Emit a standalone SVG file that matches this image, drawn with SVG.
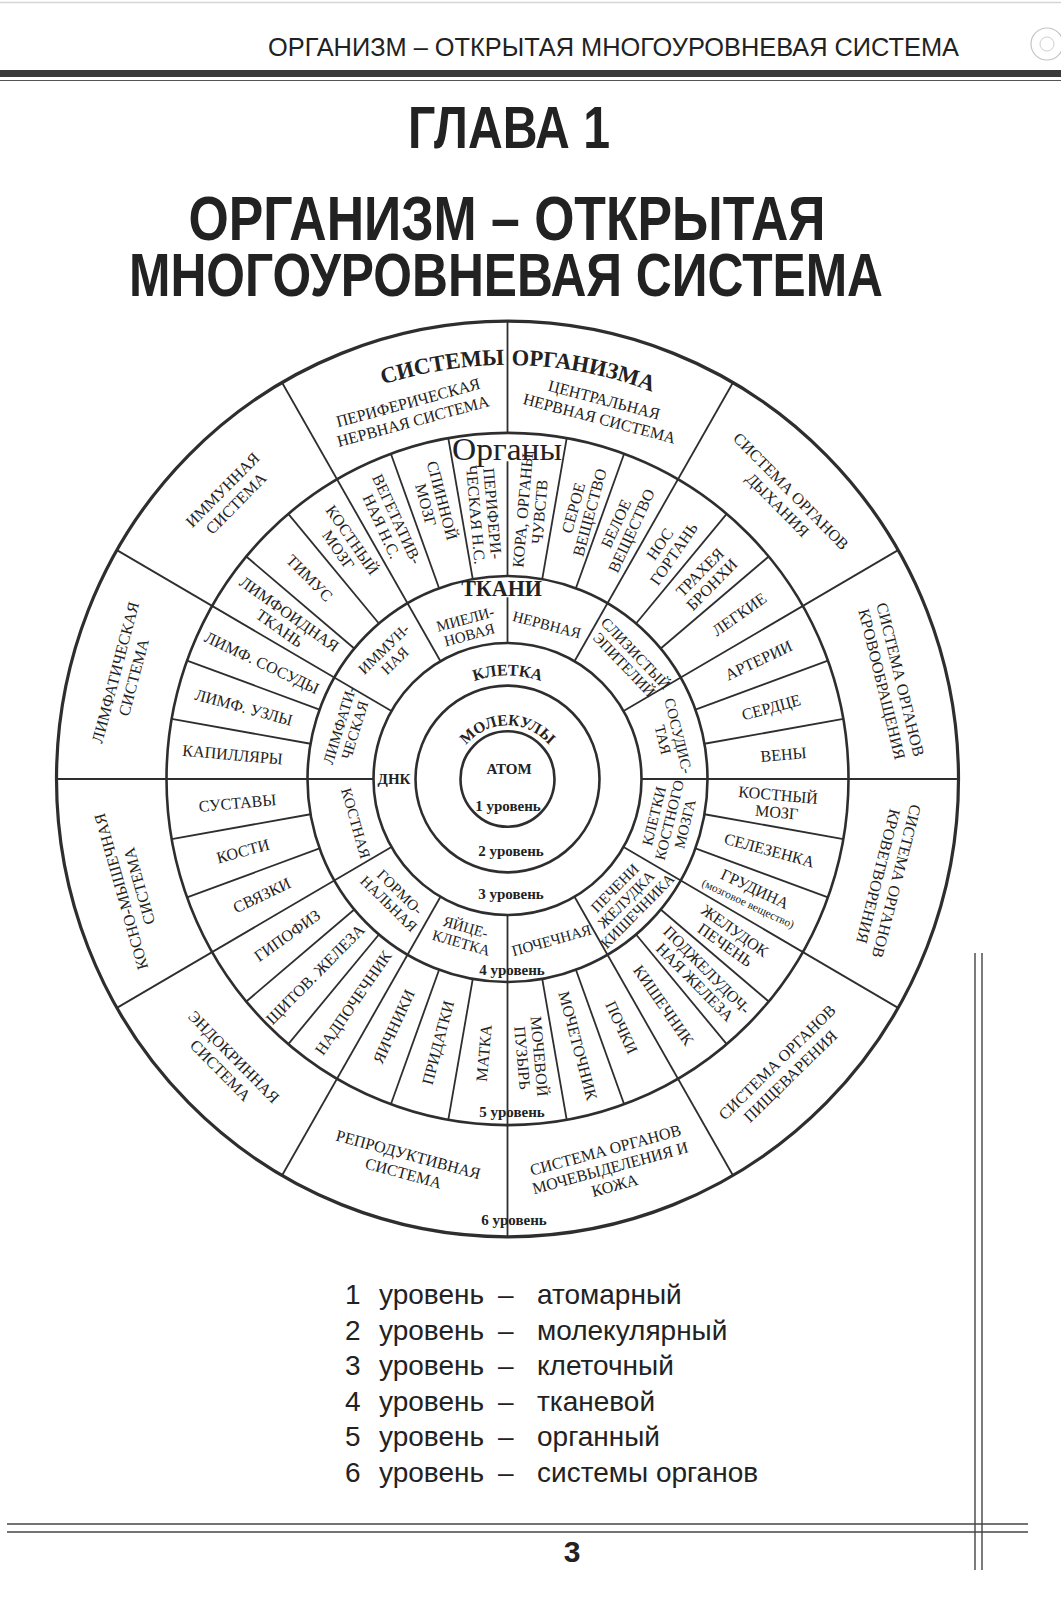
<svg xmlns="http://www.w3.org/2000/svg" width="1061" height="1600" viewBox="0 0 1061 1600">
<defs>
<style>
.ring{fill:none;stroke:#2e2e2e;stroke-width:2.6}
.div{fill:none;stroke:#2e2e2e;stroke-width:1.8}
.t{font-family:"Liberation Serif","DejaVu Serif",serif;font-size:16px;fill:#222;text-anchor:middle;dominant-baseline:central}
.t4{font-size:15px}
.b{font-weight:bold}
.arc{dominant-baseline:auto}
.lv{font-family:"Liberation Serif","DejaVu Serif",serif;font-weight:bold;font-size:15px;fill:#222;text-anchor:middle;dominant-baseline:central}
.sans{font-family:"Liberation Sans",Arial,sans-serif;fill:#222}
.narrow{font-family:"Liberation Sans Narrow","Liberation Sans",Arial,sans-serif;font-weight:bold;fill:#222;text-anchor:middle}
.leg{font-family:"Liberation Sans",Arial,sans-serif;font-size:28px;fill:#222}
</style>
<path id="arcTop" d="M -353.3 -204 A 408 408 0 0 1 353.3 -204"/>
<path id="arcCell" d="M -102 0 A 102 102 0 0 1 102 0"/>
<path id="arcMol" d="M -53 0 A 53 53 0 0 1 53 0"/>
</defs>
<rect width="1061" height="1600" fill="#ffffff"/>

<g id="page-header">
<line x1="0" y1="2.5" x2="1061" y2="2.5" stroke="#d5d5d5" stroke-width="1.5"/>
<text class="sans" x="268" y="56" font-size="25" textLength="691" lengthAdjust="spacingAndGlyphs">ОРГАНИЗМ – ОТКРЫТАЯ МНОГОУРОВНЕВАЯ СИСТЕМА</text>
<circle cx="1047" cy="44" r="16" fill="none" stroke="#c4c4c4" stroke-width="1.2"/>
<circle cx="1047" cy="44" r="7" fill="none" stroke="#cfcfcf" stroke-width="1"/>
<rect x="0" y="70" width="1061" height="7" fill="#3a3a3a"/>
<line x1="0" y1="80.5" x2="1061" y2="80.5" stroke="#555" stroke-width="1"/>
</g>

<g id="title">
<text class="narrow" x="509" y="148" font-size="59" textLength="202" lengthAdjust="spacingAndGlyphs">ГЛАВА 1</text>
<text class="narrow" x="507" y="240" font-size="63" textLength="637" lengthAdjust="spacingAndGlyphs">ОРГАНИЗМ – ОТКРЫТАЯ</text>
<text class="narrow" x="506" y="296" font-size="61" textLength="754" lengthAdjust="spacingAndGlyphs">МНОГОУРОВНЕВАЯ СИСТЕМА</text>
</g>

<g id="diagram" transform="translate(507.5 779) scale(1 1.015)">
<g id="rings">
<circle class="ring" r="47"/>
<circle class="ring" r="92"/>
<circle class="ring" r="134"/>
<circle class="ring" r="200"/>
<circle class="ring" r="341"/>
<circle class="ring" r="451" style="stroke-width:3.2"/>
</g>
<g id="connectors">
<line class="div" x1="0" y1="-134" x2="0" y2="-179"/>
<line class="div" x1="0" y1="-200" x2="0" y2="-313"/>
<line class="div" x1="0" y1="-341" x2="0" y2="-451"/>
<line class="div" transform="rotate(30)" y1="-134" y2="-451"/>
<line class="div" transform="rotate(60)" y1="-134" y2="-451"/>
<line class="div" transform="rotate(90)" y1="-134" y2="-451"/>
<line class="div" transform="rotate(120)" y1="-134" y2="-451"/>
<line class="div" transform="rotate(150)" y1="-134" y2="-451"/>
<line class="div" transform="rotate(180)" y1="-134" y2="-451"/>
<line class="div" transform="rotate(210)" y1="-134" y2="-451"/>
<line class="div" transform="rotate(240)" y1="-134" y2="-451"/>
<line class="div" transform="rotate(270)" y1="-134" y2="-451"/>
<line class="div" transform="rotate(300)" y1="-134" y2="-451"/>
<line class="div" transform="rotate(330)" y1="-134" y2="-451"/>
<line class="div" transform="rotate(10)" y1="-200" y2="-341"/>
<line class="div" transform="rotate(20)" y1="-200" y2="-341"/>
<line class="div" transform="rotate(40)" y1="-200" y2="-341"/>
<line class="div" transform="rotate(50)" y1="-200" y2="-341"/>
<line class="div" transform="rotate(70)" y1="-200" y2="-341"/>
<line class="div" transform="rotate(80)" y1="-200" y2="-341"/>
<line class="div" transform="rotate(100)" y1="-200" y2="-341"/>
<line class="div" transform="rotate(110)" y1="-200" y2="-341"/>
<line class="div" transform="rotate(130)" y1="-200" y2="-341"/>
<line class="div" transform="rotate(140)" y1="-200" y2="-341"/>
<line class="div" transform="rotate(160)" y1="-200" y2="-341"/>
<line class="div" transform="rotate(170)" y1="-200" y2="-341"/>
<line class="div" transform="rotate(190)" y1="-200" y2="-341"/>
<line class="div" transform="rotate(200)" y1="-200" y2="-341"/>
<line class="div" transform="rotate(220)" y1="-200" y2="-341"/>
<line class="div" transform="rotate(230)" y1="-200" y2="-341"/>
<line class="div" transform="rotate(250)" y1="-200" y2="-341"/>
<line class="div" transform="rotate(260)" y1="-200" y2="-341"/>
<line class="div" transform="rotate(280)" y1="-200" y2="-341"/>
<line class="div" transform="rotate(290)" y1="-200" y2="-341"/>
<line class="div" transform="rotate(310)" y1="-200" y2="-341"/>
<line class="div" transform="rotate(320)" y1="-200" y2="-341"/>
<line class="div" transform="rotate(340)" y1="-200" y2="-341"/>
<line class="div" transform="rotate(350)" y1="-200" y2="-341"/>
</g>

<g id="level6-title">
<text class="t b arc" style="font-size:22.5px"><textPath href="#arcTop" startOffset="424" text-anchor="end">СИСТЕМЫ</textPath></text>
<text class="t b arc" style="font-size:22.5px"><textPath href="#arcTop" startOffset="431" text-anchor="start">ОРГАНИЗМА</textPath></text>
</g>
<g id="sys-pns"><text class="t" transform="rotate(345) translate(0,-375)"><tspan x="0" y="-9.5">ПЕРИФЕРИЧЕСКАЯ</tspan><tspan x="0" y="9.5">НЕРВНАЯ СИСТЕМА</tspan></text></g>
<g id="sys-cns"><text class="t" transform="rotate(14.5) translate(0,-377)"><tspan x="0" y="-9.5">ЦЕНТРАЛЬНАЯ</tspan><tspan x="0" y="9.5">НЕРВНАЯ СИСТЕМА</tspan></text></g>
<g id="sys-resp"><text class="t" transform="rotate(45) translate(0,-392)"><tspan x="0" y="-9.5">СИСТЕМА ОРГАНОВ</tspan><tspan x="0" y="9.5">ДЫХАНИЯ</tspan></text></g>
<g id="sys-circ"><text class="t" transform="rotate(76) translate(0,-396)"><tspan x="0" y="-9.5">СИСТЕМА ОРГАНОВ</tspan><tspan x="0" y="9.5">КРОВООБРАЩЕНИЯ</tspan></text></g>
<g id="sys-hemat"><text class="t" transform="rotate(104.5) translate(0,-393)"><tspan x="0" y="-9.5">СИСТЕМА ОРГАНОВ</tspan><tspan x="0" y="9.5">КРОВЕТВОРЕНИЯ</tspan></text></g>
<g id="sys-dig"><text class="t" transform="rotate(136) translate(0,-397) rotate(180)"><tspan x="0" y="-9.5">СИСТЕМА ОРГАНОВ</tspan><tspan x="0" y="9.5">ПИЩЕВАРЕНИЯ</tspan></text></g>
<g id="sys-excr"><text class="t" transform="rotate(165) translate(0,-396) rotate(180)"><tspan x="0" y="-18">СИСТЕМА ОРГАНОВ</tspan><tspan x="0" y="0">МОЧЕВЫДЕЛЕНИЯ И</tspan><tspan x="0" y="18">КОЖА</tspan></text></g>
<g id="sys-repr"><text class="t" transform="rotate(195) translate(0,-392) rotate(180)"><tspan x="0" y="-9.5">РЕПРОДУКТИВНАЯ</tspan><tspan x="0" y="9.5">СИСТЕМА</tspan></text></g>
<g id="sys-endo"><text class="t" transform="rotate(225) translate(0,-396) rotate(180)"><tspan x="0" y="-9.5">ЭНДОКРИННАЯ</tspan><tspan x="0" y="9.5">СИСТЕМА</tspan></text></g>
<g id="sys-musc"><text class="t" transform="rotate(254) translate(0,-393)"><tspan x="0" y="-9.5">КОСНО-МЫШЕЧНАЯ</tspan><tspan x="0" y="9.5">СИСТЕМА</tspan></text></g>
<g id="sys-lymph"><text class="t" transform="rotate(285) translate(0,-397)"><tspan x="0" y="-9.5">ЛИМФАТИЧЕСКАЯ</tspan><tspan x="0" y="9.5">СИСТЕМА</tspan></text></g>
<g id="sys-immun"><text class="t" transform="rotate(315) translate(0,-394)"><tspan x="0" y="-9.5">ИММУННАЯ</tspan><tspan x="0" y="9.5">СИСТЕМА</tspan></text></g>

<g id="org-cortex"><text class="t" transform="rotate(5) translate(0,-265) rotate(-90)"><tspan x="0" y="-8.5">КОРА, ОРГАНЫ</tspan><tspan x="0" y="8.5">ЧУВСТВ</tspan></text></g>
<g id="org-grey"><text class="t" transform="rotate(15.5) translate(0,-275) rotate(-90)"><tspan x="0" y="-8.5">СЕРОЕ</tspan><tspan x="0" y="8.5">ВЕЩЕСТВО</tspan></text></g>
<g id="org-white"><text class="t" transform="rotate(25) translate(0,-274) rotate(-90)"><tspan x="0" y="-8.5">БЕЛОЕ</tspan><tspan x="0" y="8.5">ВЕЩЕСТВО</tspan></text></g>
<g id="org-nose"><text class="t" transform="rotate(35) translate(0,-277) rotate(-90)"><tspan x="0" y="-8.5">НОС</tspan><tspan x="0" y="8.5">ГОРТАНЬ</tspan></text></g>
<g id="org-trachea"><text class="t" transform="rotate(45) translate(0,-280) rotate(-90)"><tspan x="0" y="-8.5">ТРАХЕЯ</tspan><tspan x="0" y="8.5">БРОНХИ</tspan></text></g>
<g id="org-lungs"><text class="t" transform="rotate(55) translate(0,-283) rotate(-90)">ЛЕГКИЕ</text></g>
<g id="org-arteries"><text class="t" transform="rotate(65) translate(0,-277) rotate(-90)">АРТЕРИИ</text></g>
<g id="org-heart"><text class="t" transform="rotate(75) translate(0,-273) rotate(-90)">СЕРДЦЕ</text></g>
<g id="org-veins"><text class="t" transform="rotate(85) translate(0,-277) rotate(-90)">ВЕНЫ</text></g>
<g id="org-marrow"><text class="t" transform="rotate(95) translate(0,-271) rotate(-90)"><tspan x="0" y="-8.5">КОСТНЫЙ</tspan><tspan x="0" y="8.5">МОЗГ</tspan></text></g>
<g id="org-spleen"><text class="t" transform="rotate(105) translate(0,-271) rotate(-90)">СЕЛЕЗЕНКА</text></g>
<g id="org-sternum"><text class="t" transform="rotate(115) translate(0,-270) rotate(-90)"><tspan x="0" y="-7">ГРУДИНА</tspan><tspan x="0" y="9.5" style="font-size:11.5px">(мозговое вещество)</tspan></text></g>
<g id="org-stomach"><text class="t" transform="rotate(125) translate(0,-272) rotate(-90)"><tspan x="0" y="-8.5">ЖЕЛУДОК</tspan><tspan x="0" y="8.5">ПЕЧЕНЬ</tspan></text></g>
<g id="org-pancreas"><text class="t" transform="rotate(135) translate(0,-274) rotate(-90)"><tspan x="0" y="-8.5">ПОДЖЕЛУДОЧ-</tspan><tspan x="0" y="8.5">НАЯ ЖЕЛЕЗА</tspan></text></g>
<g id="org-intestine"><text class="t" transform="rotate(145) translate(0,-272) rotate(-90)">КИШЕЧНИК</text></g>
<g id="org-kidneys"><text class="t" transform="rotate(155) translate(0,-270) rotate(-90)">ПОЧКИ</text></g>
<g id="org-ureter"><text class="t" transform="rotate(165) translate(0,-272) rotate(-90)">МОЧЕТОЧНИК</text></g>
<g id="org-bladder"><text class="t" transform="rotate(175) translate(0,-275) rotate(-90)"><tspan x="0" y="-8.5">МОЧЕВОЙ</tspan><tspan x="0" y="8.5">ПУЗЫРЬ</tspan></text></g>
<g id="org-uterus"><text class="t" transform="rotate(185) translate(0,-271) rotate(90)">МАТКА</text></g>
<g id="org-adnexa"><text class="t" transform="rotate(195) translate(0,-269) rotate(90)">ПРИДАТКИ</text></g>
<g id="org-ovaries"><text class="t" transform="rotate(205) translate(0,-269) rotate(90)">ЯИЧНИКИ</text></g>
<g id="org-adrenal"><text class="t" transform="rotate(215) translate(0,-269) rotate(90)">НАДПОЧЕЧНИК</text></g>
<g id="org-thyroid"><text class="t" transform="rotate(225) translate(0,-272) rotate(90)">ЩИТОВ. ЖЕЛЕЗА</text></g>
<g id="org-pituitary"><text class="t" transform="rotate(235) translate(0,-269) rotate(90)">ГИПОФИЗ</text></g>
<g id="org-ligaments"><text class="t" transform="rotate(245) translate(0,-271) rotate(90)">СВЯЗКИ</text></g>
<g id="org-bones"><text class="t" transform="rotate(255) translate(0,-274) rotate(90)">КОСТИ</text></g>
<g id="org-joints"><text class="t" transform="rotate(265) translate(0,-271) rotate(90)">СУСТАВЫ</text></g>
<g id="org-capillaries"><text class="t" transform="rotate(275) translate(0,-276) rotate(90)">КАПИЛЛЯРЫ</text></g>
<g id="org-nodes"><text class="t" transform="rotate(285) translate(0,-273) rotate(90)">ЛИМФ. УЗЛЫ</text></g>
<g id="org-vessels"><text class="t" transform="rotate(295) translate(0,-271) rotate(90)">ЛИМФ. СОСУДЫ</text></g>
<g id="org-lymphoid"><text class="t" transform="rotate(305) translate(0,-272) rotate(90)"><tspan x="0" y="-8.5">ЛИМФОИДНАЯ</tspan><tspan x="0" y="8.5">ТКАНЬ</tspan></text></g>
<g id="org-thymus"><text class="t" transform="rotate(315) translate(0,-280) rotate(90)">ТИМУС</text></g>
<g id="org-marrow2"><text class="t" transform="rotate(325) translate(0,-282) rotate(90)"><tspan x="0" y="-8.5">КОСТНЫЙ</tspan><tspan x="0" y="8.5">МОЗГ</tspan></text></g>
<g id="org-vegetative"><text class="t" transform="rotate(335) translate(0,-279) rotate(90)"><tspan x="0" y="-8.5">ВЕГЕТАТИВ-</tspan><tspan x="0" y="8.5">НАЯ Н.С.</tspan></text></g>
<g id="org-spinal"><text class="t" transform="rotate(345) translate(0,-282) rotate(90)"><tspan x="0" y="-8.5">СПИННОЙ</tspan><tspan x="0" y="8.5">МОЗГ</tspan></text></g>
<g id="org-peripheral"><text class="t" transform="rotate(355) translate(0,-262) rotate(90)"><tspan x="0" y="-8.5">ПЕРИФЕРИ-</tspan><tspan x="0" y="8.5">ЧЕСКАЯ Н.С.</tspan></text></g>

<g id="tis-title"><text class="t b" x="-6" y="-187.5" style="font-size:22px">ТКАНИ</text></g>
<g id="tis-myelin"><text class="t t4" transform="rotate(345) translate(0,-155)"><tspan x="0" y="-8">МИЕЛИ-</tspan><tspan x="0" y="8">НОВАЯ</tspan></text></g>
<g id="tis-nerve"><text class="t t4" transform="rotate(14.5) translate(0,-157)">НЕРВНАЯ</text></g>
<g id="tis-epith"><text class="t t4" transform="rotate(46) translate(0,-170)"><tspan x="0" y="-8">СЛИЗИСТЫЙ</tspan><tspan x="0" y="8">ЭПИТЕЛИЙ</tspan></text></g>
<g id="tis-vasc"><text class="t t4" transform="rotate(76) translate(0,-168)"><tspan x="0" y="-8">СОСУДИС-</tspan><tspan x="0" y="8">ТАЯ</tspan></text></g>
<g id="tis-bmc"><text class="t t4" transform="rotate(104) translate(0,-167) rotate(180)"><tspan x="0" y="-16">КЛЕТКИ</tspan><tspan x="0" y="0">КОСТНОГО</tspan><tspan x="0" y="16">МОЗГА</tspan></text></g>
<g id="tis-liver"><text class="t t4" transform="rotate(135) translate(0,-168) rotate(180)"><tspan x="0" y="-16">ПЕЧЕНИ</tspan><tspan x="0" y="0">ЖЕЛУДКА</tspan><tspan x="0" y="16">КИШЕЧНИКА</tspan></text></g>
<g id="tis-renal"><text class="t t4" transform="rotate(164.5) translate(0,-165) rotate(180)">ПОЧЕЧНАЯ</text></g>
<g id="tis-egg"><text class="t t4" transform="rotate(196) translate(0,-160) rotate(180)"><tspan x="0" y="-8">ЯЙЦЕ-</tspan><tspan x="0" y="8">КЛЕТКА</tspan></text></g>
<g id="tis-horm"><text class="t t4" transform="rotate(224) translate(0,-163) rotate(180)"><tspan x="0" y="-8">ГОРМО-</tspan><tspan x="0" y="8">НАЛЬНАЯ</tspan></text></g>
<g id="tis-bone"><text class="t t4" transform="rotate(254) translate(0,-158) rotate(180)">КОСТНАЯ</text></g>
<g id="tis-lymph"><text class="t t4" transform="rotate(287.5) translate(0,-168)"><tspan x="0" y="-8">ЛИМФАТИ-</tspan><tspan x="0" y="8">ЧЕСКАЯ</tspan></text></g>
<g id="tis-immun"><text class="t t4" transform="rotate(316) translate(0,-170)"><tspan x="0" y="-8">ИММУН-</tspan><tspan x="0" y="8">НАЯ</tspan></text></g>

<g id="cell-title"><text class="t b arc"><textPath href="#arcCell" startOffset="50%" text-anchor="middle">КЛЕТКА</textPath></text></g>
<g id="mol-title"><text class="t b arc" style="font-size:15.5px"><textPath href="#arcMol" startOffset="50%" text-anchor="middle">МОЛЕКУЛЫ</textPath></text></g>
</g>

<g id="organs-title">
<text x="507" y="460" font-family="Liberation Serif, serif" font-size="32" fill="#222" text-anchor="middle" textLength="110" lengthAdjust="spacingAndGlyphs">Органы</text>
</g>
<g id="center-labels">
<text class="lv" x="509" y="769">АТОМ</text>
<text class="lv" x="508" y="806">1 уровень</text>
<text class="lv" x="511" y="851">2 уровень</text>
<text class="lv" x="394" y="779">ДНК</text>
<text class="lv" x="511" y="894">3 уровень</text>
<text class="lv" x="512" y="970">4 уровень</text>
<text class="lv" x="512" y="1112">5 уровень</text>
<text class="lv" x="514" y="1220">6 уровень</text>
</g>

<g id="legend">
<text class="leg" y="1304"><tspan x="345">1 </tspan><tspan x="379">уровень </tspan><tspan x="498">– </tspan><tspan x="537">атомарный</tspan></text>
<text class="leg" y="1339.5"><tspan x="345">2 </tspan><tspan x="379">уровень </tspan><tspan x="498">– </tspan><tspan x="537">молекулярный</tspan></text>
<text class="leg" y="1375"><tspan x="345">3 </tspan><tspan x="379">уровень </tspan><tspan x="498">– </tspan><tspan x="537">клеточный</tspan></text>
<text class="leg" y="1410.5"><tspan x="345">4 </tspan><tspan x="379">уровень </tspan><tspan x="498">– </tspan><tspan x="537">тканевой</tspan></text>
<text class="leg" y="1446"><tspan x="345">5 </tspan><tspan x="379">уровень </tspan><tspan x="498">– </tspan><tspan x="537">органный</tspan></text>
<text class="leg" y="1481.5"><tspan x="345">6 </tspan><tspan x="379">уровень </tspan><tspan x="498">– </tspan><tspan x="537">системы органов</tspan></text>
</g>

<g id="page-footer">
<line x1="975" y1="953" x2="975" y2="1570" stroke="#444" stroke-width="1.4"/>
<line x1="982" y1="953" x2="982" y2="1570" stroke="#444" stroke-width="1.4"/>
<line x1="7" y1="1524" x2="1028" y2="1524" stroke="#444" stroke-width="1.4"/>
<line x1="7" y1="1532" x2="1028" y2="1532" stroke="#444" stroke-width="1.4"/>
<text class="sans" x="572" y="1562" font-size="30" font-weight="bold" text-anchor="middle">3</text>
</g>
</svg>
